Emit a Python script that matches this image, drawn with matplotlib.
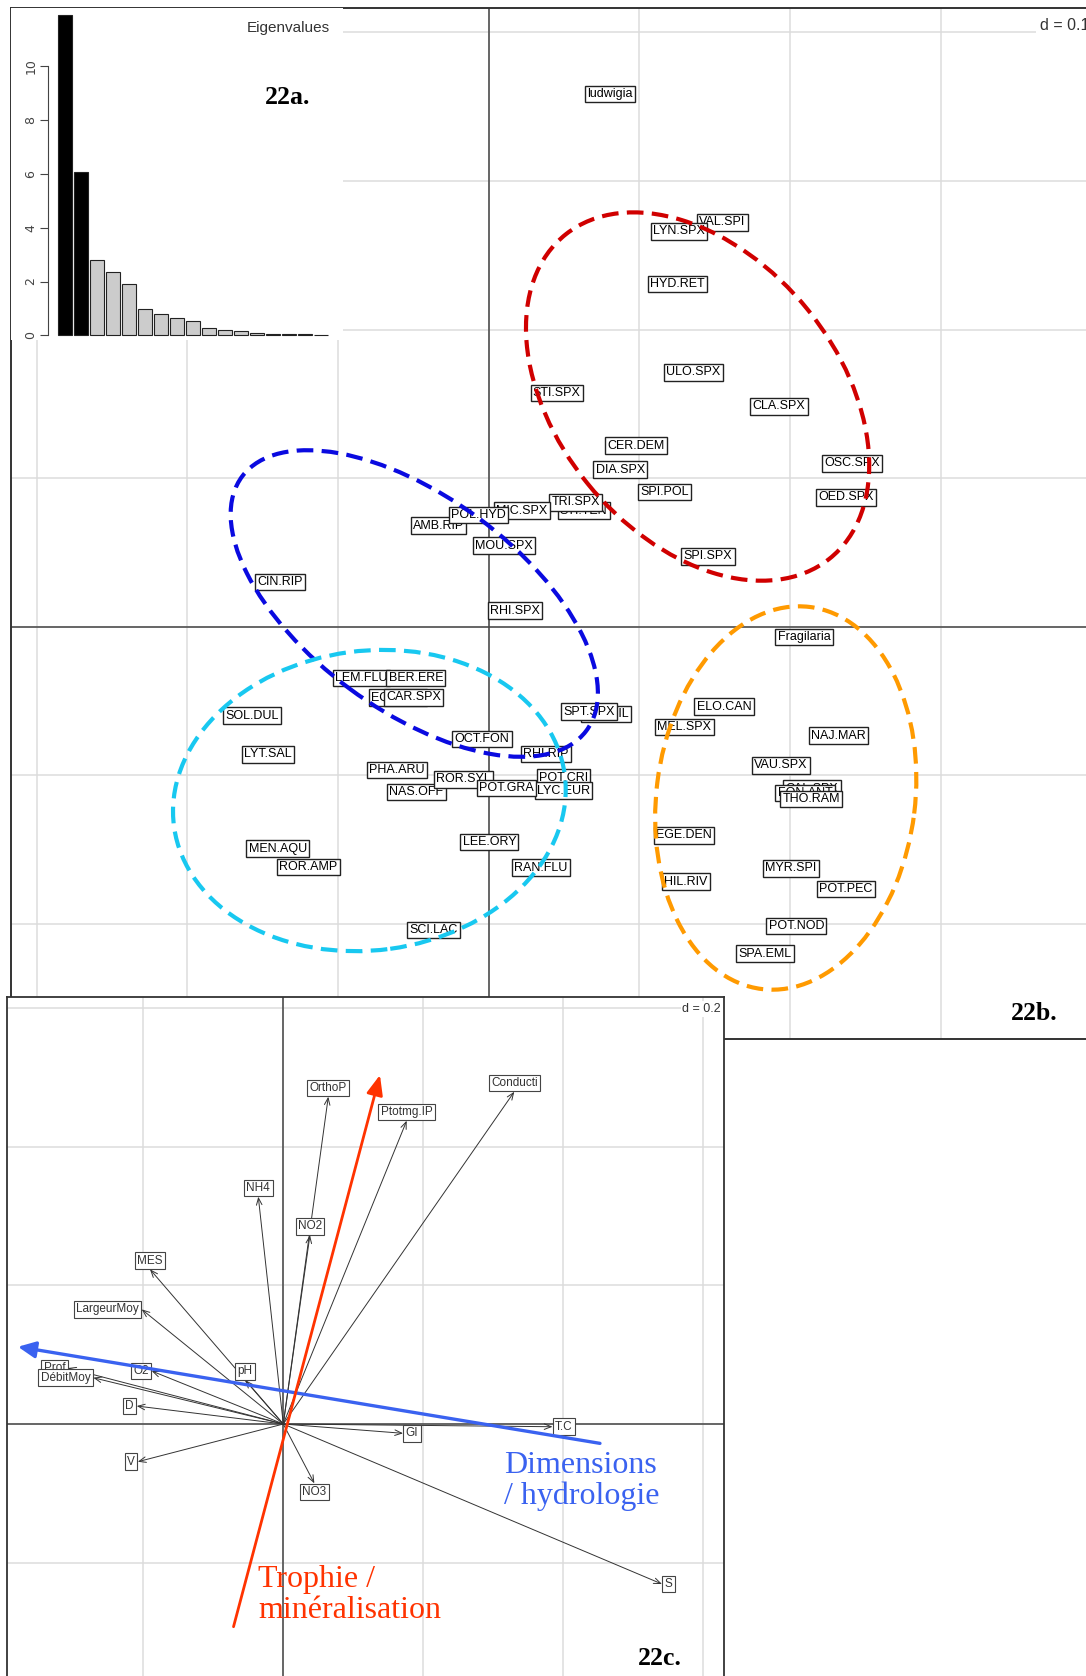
import numpy as np
import matplotlib
matplotlib.use("Agg")
import matplotlib.pyplot as plt
from matplotlib.patches import Ellipse

# ---- data ---------------------------------------------------------------
# 22a eigenvalues
eig_values = [11.88, 6.07, 2.79, 2.35, 1.92, 1.00, 0.81, 0.64, 0.52, 0.27,
              0.22, 0.16, 0.09, 0.05, 0.05, 0.05, 0.01]
n_kept = 2

# 22b species scores (label, x, y) - order = drawing order (back to front)
species_names = ["ludwigia", "VAL.SPI", "LYN.SPX", "HYD.RET", "ULO.SPX", "STI.SPX",
                 "CLA.SPX", "CER.DEM", "DIA.SPX", "OSC.SPX", "SPI.POL", "OED.SPX",
                 "STI.TEN", "TRI.SPX", "MIC.SPX", "AMB.RIP", "POL.HYD", "MOU.SPX",
                 "SPI.SPX", "CIN.RIP", "RHI.SPX", "LEM.FLU", "BER.ERE", "EQU.FLU",
                 "CAR.SPX", "SOL.DUL", "POT.FIL", "SPT.SPX", "OCT.FON", "LYT.SAL",
                 "RHI.RIP", "PHA.ARU", "NAS.OFF", "ROR.SYL", "POT.CRI", "LYC.EUR",
                 "POT.GRA", "LEE.ORY", "MEN.AQU", "ROR.AMP", "RAN.FLU", "SCI.LAC",
                 "Fragilaria", "ELO.CAN", "MEL.SPX", "NAJ.MAR", "VAU.SPX", "CAL.SPX",
                 "FON.ANT", "THO.RAM", "EGE.DEN", "MYR.SPI", "HIL.RIV", "POT.PEC",
                 "POT.NOD", "SPA.EML"]
species_x = [0.0805, 0.1550, 0.1261, 0.1254, 0.1358, 0.0451,
             0.1926, 0.0975, 0.0873, 0.2411, 0.1168, 0.2369,
             0.0630, 0.0579, 0.0219, -0.0334, -0.0069, 0.0102,
             0.1455, -0.1387, 0.0173, -0.0847, -0.0484, -0.0602,
             -0.0498, -0.1573, 0.0778, 0.0668, -0.0044, -0.1464,
             0.0380, -0.0608, -0.0480, -0.0169, 0.0495, 0.0495,
             0.0119, 0.0004, -0.1400, -0.1197, 0.0347, -0.0368,
             0.2092, 0.1561, 0.1298, 0.2320, 0.1940, 0.2145,
             0.2099, 0.2141, 0.1298, 0.2004, 0.1309, 0.2369,
             0.2041, 0.1833]
species_y = [0.3585, 0.2721, 0.2661, 0.2308, 0.1712, 0.1573,
             0.1483, 0.1218, 0.1057, 0.1100, 0.0906, 0.0871,
             0.0781, 0.0837, 0.0781, 0.0680, 0.0752, 0.0545,
             0.0474, 0.0301, 0.0108, -0.0347, -0.0347, -0.0478,
             -0.0475, -0.0599, -0.0587, -0.0572, -0.0756, -0.0859,
             -0.0857, -0.0964, -0.1114, -0.1027, -0.1016, -0.1104,
             -0.1087, -0.1449, -0.1494, -0.1617, -0.1622, -0.2043,
             -0.0071, -0.0538, -0.0675, -0.0734, -0.0933, -0.1090,
             -0.1119, -0.1159, -0.1404, -0.1626, -0.1716, -0.1765,
             -0.2014, -0.2201]

# 22b groups (hand drawn ellipses): centre, width, height, angle
group_cx = [0.1386, -0.0494, -0.0792, 0.1971]
group_cy = [0.1549, 0.0156, -0.1170, -0.1153]
group_w = [0.2798, 0.2854, 0.2616, 0.2591]
group_h = [0.1872, 0.1432, 0.2015, 0.1717]
group_angle = [-51.4, -37.0, 7.9, 83.0]
group_colors = ["#d00000", "#0a0ae0", "#18c8f0", "#ff9a00"]

# 22c environmental variables (arrow tips)
env_names = ["OrthoP", "NH4", "NO2", "MES", "LargeurMoy", "pH", "O2", "Prof",
             "DébitMoy", "D", "V", "T.C", "GI", "NO3", "S", "Ptotmg.IP", "Conducti"]
env_x = [0.0643, -0.0357, 0.0381, -0.1904, -0.2023, -0.0547, -0.1880, -0.3076,
         -0.2714, -0.2094, -0.2079, 0.3846, 0.1711, 0.0444, 0.5410, 0.1763, 0.3300]
env_y = [0.4723, 0.3280, 0.2727, 0.2232, 0.1655, 0.0635, 0.0765, 0.0808,
         0.0668, 0.0260, -0.0544, -0.0039, -0.0134, -0.0856, -0.2309, 0.4377, 0.4795]

# interpretation axes drawn on 22c
hydro_start, hydro_end = (0.4524, -0.0279), (-0.379, 0.1115)
troph_start, troph_end = (-0.0711, -0.2925), (0.1381, 0.5036)

# ---- figure -------------------------------------------------------------
W, H = 1086, 1676
fig = plt.figure(figsize=(W / 100, H / 100), dpi=100)
fig.patch.set_facecolor("white")


def px_axes(l, t, r, b):
    return fig.add_axes([l / W, 1 - b / H, (r - l) / W, (b - t) / H])


# ---- 22b: species plane ---------------------------------------------------
axb = px_axes(11, 8, 1095, 1039)
axb.set_xlim(-0.3170, 0.4023)
axb.set_ylim(-0.2775, 0.4164)
axb.set_xticks(np.arange(-0.3, 0.41, 0.1))
axb.set_yticks(np.arange(-0.2, 0.41, 0.1))
axb.grid(True, color="#dcdcdc", lw=1.1)
axb.tick_params(length=0, labelleft=False, labelbottom=False)
axb.axhline(0, color="#444444", lw=1.1)
axb.axvline(0, color="#444444", lw=1.1)
for s in ["left", "top", "bottom"]:
    axb.spines[s].set_color("#333333")
    axb.spines[s].set_linewidth(1.4)
axb.spines["right"].set_visible(False)

for name, x, y in zip(species_names, species_x, species_y):
    axb.text(x, y, name, ha="center", va="center", fontsize=9,
             family="Liberation Sans", color="black", zorder=3,
             bbox=dict(boxstyle="square,pad=0.18", fc="white", ec="#222222", lw=1.0))

for cx, cy, w, h, a, c in zip(group_cx, group_cy, group_w, group_h, group_angle, group_colors):
    axb.add_patch(Ellipse((cx, cy), w, h, angle=a, fill=False, ec=c, lw=3,
                          ls=(0, (4, 2)), zorder=4))

fig.text(1089 / W, 1 - 25 / H, "d = 0.1", ha="right", va="center", fontsize=11.5,
         color="#333333", family="Liberation Sans",
         bbox=dict(boxstyle="square,pad=0.2", fc="white", ec="none"))

# ---- 22a: eigenvalues inset ------------------------------------------------
axa = px_axes(11, 8, 343, 340)
axa.set_facecolor("white")
pos = np.arange(1, len(eig_values) + 1)
bar_colors = ["black" if i < n_kept else "#cccccc" for i in range(len(eig_values))]
axa.bar(pos, eig_values, width=0.88, color=bar_colors, edgecolor="#222222", lw=0.8)
axa.set_xlim(-2.375, 18.375)
axa.set_ylim(-0.167, 12.14)
for s in ["top", "right", "bottom"]:
    axa.spines[s].set_visible(False)
axa.spines["left"].set_position(("data", -0.04))
axa.spines["left"].set_bounds(0, 10)
axa.spines["left"].set_color("#444444")
axa.set_xticks([])
axa.set_yticks(np.arange(0, 11, 2))
axa.tick_params(axis="y", length=6, width=0.8, color="#444444", labelsize=9,
                labelcolor="#444444", labelrotation=90, pad=2)
for lab in axa.get_yticklabels():
    lab.set_verticalalignment("center")
axa.text(0.961, 0.94, "Eigenvalues", transform=axa.transAxes, ha="right",
         va="center", fontsize=11, color="#333333", family="Liberation Sans")

# ---- 22c: environmental correlation circle ---------------------------------
axc = px_axes(7, 997, 724, 1690)
axc.set_facecolor("white")
axc.set_xlim(-0.3947, 0.6296)
axc.set_ylim(-0.3838, 0.6162)
axc.set_xticks(np.arange(-0.2, 0.61, 0.2))
axc.set_yticks(np.arange(-0.2, 0.61, 0.2))
axc.grid(True, color="#dcdcdc", lw=1.1)
axc.tick_params(length=0, labelleft=False, labelbottom=False)
axc.axhline(0, color="#444444", lw=1.1)
axc.axvline(0, color="#444444", lw=1.1)
for s in ["left", "top", "right"]:
    axc.spines[s].set_color("#333333")
    axc.spines[s].set_linewidth(1.3)
axc.spines["bottom"].set_visible(False)

for name, x, y in zip(env_names, env_x, env_y):
    axc.annotate("", xy=(x, y), xytext=(0, 0),
                 arrowprops=dict(arrowstyle="->,head_length=0.5,head_width=0.2",
                                 lw=0.7, color="#333333", shrinkA=0, shrinkB=0,
                                 mutation_scale=10), zorder=2)

for name, x, y in zip(env_names, env_x, env_y):
    if x > y and x > -y:
        off, ha, va = (2, 0), "left", "center"
    elif x > y:
        off, ha, va = (0, -2), "center", "top"
    elif x <= -y:
        off, ha, va = (-2, 0), "right", "center"
    else:
        off, ha, va = (0, 2), "center", "bottom"
    axc.annotate(name, xy=(x, y), xytext=off, textcoords="offset points",
                 ha=ha, va=va, fontsize=8.5, color="#333333",
                 family="Liberation Sans", zorder=3,
                 bbox=dict(boxstyle="square,pad=0.2", fc="white", ec="#444444", lw=0.8))

axc.annotate("", xy=hydro_end, xytext=hydro_start,
             arrowprops=dict(arrowstyle="-|>,head_length=0.7,head_width=0.33",
                             lw=2.4, color="#3a62f0", shrinkA=0, shrinkB=0,
                             mutation_scale=15), zorder=5)
axc.annotate("", xy=troph_end, xytext=troph_start,
             arrowprops=dict(arrowstyle="-|>,head_length=0.8,head_width=0.33",
                             lw=2.0, color="#ff3300", shrinkA=0, shrinkB=0,
                             mutation_scale=15), zorder=5)

fig.text(721 / W, 1 - 1009 / H, "d = 0.2", ha="right", va="center", fontsize=9,
         color="#333333", family="Liberation Sans",
         bbox=dict(boxstyle="square,pad=0.15", fc="white", ec="none"))

fig.text(504 / W, 1 - 1481 / H, "Dimensions\n/ hydrologie", ha="left", va="center",
         fontsize=23, color="#3a62f0", family="Liberation Serif", linespacing=1.05)
fig.text(258 / W, 1 - 1595 / H, "Trophie /\nminéralisation", ha="left", va="center",
         fontsize=23, color="#ff3300", family="Liberation Serif", linespacing=1.05)

# ---- panel tags -----------------------------------------------------------
for txt, x, y in [("22a.", 288, 97), ("22b.", 1034, 1013), ("22c.", 660, 1658)]:
    fig.text(x / W, 1 - y / H, txt, ha="center", va="center", fontsize=18.5,
             weight="bold", family="Liberation Serif", color="black")

fig.savefig("out.png", dpi=100)
